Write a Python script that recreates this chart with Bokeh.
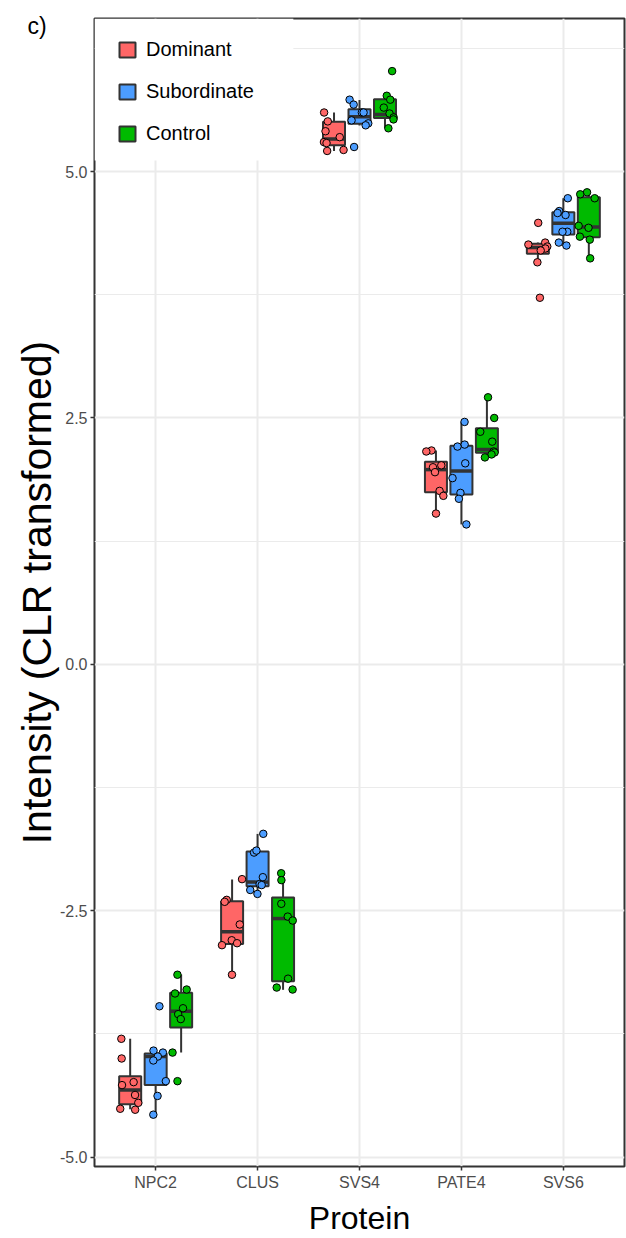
from bokeh.plotting import figure
from bokeh.models import (FactorRange, Range1d, FixedTicker, PrintfTickFormatter,
                          Legend, LegendItem, ColumnDataSource, BoxAnnotation)
from bokeh.transform import dodge, jitter
from bokeh.embed import file_html
from bokeh.resources import INLINE

proteins = ["NPC2", "CLUS", "SVS4", "PATE4", "SVS6"]
groups = ["Dominant", "Subordinate", "Control"]

# Box statistics per protein
dominant_low    = [-4.515, -3.154, 5.210, 1.528, 4.080]
dominant_q1     = [-4.465, -2.838, 5.268, 1.747, 4.167]
dominant_median = [-4.320, -2.715, 5.330, 1.976, 4.230]
dominant_q3     = [-4.180, -2.405, 5.507, 2.056, 4.267]
dominant_high   = [-3.800, -2.184, 5.601, 2.170, 4.280]

subordinate_low    = [-4.567, -2.330, 5.467, 1.420, 4.246]
subordinate_q1     = [-4.270, -2.252, 5.486, 1.724, 4.363]
subordinate_median = [-3.980, -2.210, 5.558, 1.962, 4.476]
subordinate_q3     = [-3.950, -1.900, 5.632, 2.219, 4.587]
subordinate_high   = [-3.918, -1.721, 5.727, 2.457, 4.729]

control_low    = [-3.940, -3.303, 5.439, 2.099, 4.121]
control_q1     = [-3.685, -3.215, 5.543, 2.147, 4.334]
control_median = [-3.520, -2.580, 5.580, 2.180, 4.437]
control_q3     = [-3.333, -2.367, 5.735, 2.397, 4.740]
control_high   = [-3.147, -2.123, 5.771, 2.711, 4.790]

# Individual samples per protein (NPC2, CLUS, SVS4, PATE4, SVS6)
dominant_points = [
    [-3.80, -4.00, -4.24, -4.27, -4.37, -4.45, -4.52, -4.51],
    [-2.18, -2.39, -2.41, -2.64, -2.80, -2.83, -2.85, -3.15],
    [5.60, 5.51, 5.41, 5.30, 5.29, 5.22, 5.21, 5.35],
    [2.17, 2.16, 2.02, 2.00, 1.95, 1.76, 1.71, 1.53],
    [4.48, 4.28, 4.26, 4.24, 4.22, 4.20, 4.08, 3.72],
]
subordinate_points = [
    [-3.47, -3.92, -3.94, -3.98, -4.02, -4.23, -4.38, -4.57],
    [-1.72, -1.91, -1.89, -2.16, -2.23, -2.24, -2.29, -2.33],
    [5.73, 5.68, 5.60, 5.52, 5.49, 5.47, 5.25, 5.60],
    [2.46, 2.23, 2.21, 2.04, 1.89, 1.74, 1.68, 1.42],
    [4.73, 4.60, 4.58, 4.56, 4.39, 4.39, 4.28, 4.25],
]
control_points = [
    [-3.15, -3.30, -3.34, -3.49, -3.55, -3.60, -3.94, -4.23],
    [-2.12, -2.19, -2.43, -2.56, -2.60, -3.19, -3.28, -3.30],
    [6.02, 5.77, 5.73, 5.65, 5.59, 5.55, 5.53, 5.44],
    [2.71, 2.50, 2.36, 2.26, 2.16, 2.15, 2.13, 2.10],
    [4.79, 4.77, 4.73, 4.45, 4.43, 4.34, 4.31, 4.12],
]

y_ticks = [-5.0, -2.5, 0.0, 2.5, 5.0]
y_minor = [-3.75, -1.25, 1.25, 3.75, 6.25]

stats = {
    "Dominant": (dominant_low, dominant_q1, dominant_median, dominant_q3, dominant_high, dominant_points),
    "Subordinate": (subordinate_low, subordinate_q1, subordinate_median, subordinate_q3, subordinate_high, subordinate_points),
    "Control": (control_low, control_q1, control_median, control_q3, control_high, control_points),
}
colors = {"Dominant": "#FF6666", "Subordinate": "#4C9DFF", "Control": "#00BA00"}
offsets = {"Dominant": -0.25, "Subordinate": 0.0, "Control": 0.25}

FONT = "Liberation Sans"
DARK = "#333333"

x_range = FactorRange(factors=proteins, range_padding=0.04, range_padding_units="percent")
p = figure(width=626, height=1238, x_range=x_range, y_range=Range1d(-5.096, 6.554),
           output_backend="svg", toolbar_location=None,
           min_border_left=94, min_border_right=2, min_border_top=18, min_border_bottom=71)

p.background_fill_color = "white"
p.border_fill_color = "white"
p.outline_line_color = DARK
p.outline_line_width = 2

# panel tag as a left-aligned title
p.title.text = "c)"
p.title.align = "left"
p.title.offset = -67
p.title.standoff = -41
p.title.text_font = FONT
p.title.text_font_size = "23px"
p.title.text_font_style = "normal"
p.title.text_color = "black"

# grids
p.xgrid.grid_line_color = "#EBEBEB"
p.xgrid.grid_line_width = 2
p.ygrid.grid_line_color = "#EBEBEB"
p.ygrid.grid_line_width = 2
p.ygrid.minor_grid_line_color = "#EBEBEB"
p.ygrid.minor_grid_line_width = 1

# axes
p.yaxis.ticker = FixedTicker(ticks=y_ticks, minor_ticks=y_minor)
p.yaxis.formatter = PrintfTickFormatter(format="%.1f")
for ax in (p.xaxis[0], p.yaxis[0]):
    ax.axis_line_color = None
    ax.major_tick_line_color = DARK
    ax.major_tick_line_width = 1.5
    ax.major_tick_out = 4
    ax.major_tick_in = 0
    ax.minor_tick_line_color = None
    ax.major_label_text_font = FONT
    ax.major_label_text_font_size = "16px"
    ax.major_label_text_color = "#4D4D4D"
    ax.major_label_standoff = 3
    ax.axis_label_text_font = FONT
    ax.axis_label_text_font_style = "normal"
    ax.axis_label_text_color = "black"
p.xaxis.axis_label = "Protein"
p.xaxis.axis_label_text_font_size = "32px"
p.xaxis.axis_label_standoff = 6
p.yaxis.axis_label = "Intensity (CLR transformed)"
p.yaxis.axis_label_text_font_size = "41px"
p.yaxis.axis_label_standoff = -3

box_w = 0.216
box_renderers = {}
for g in groups:
    lo, q1, med, q3, hi, pts = stats[g]
    off = offsets[g]
    src = ColumnDataSource(dict(protein=proteins, lo=lo, q1=q1, med=med, q3=q3, hi=hi))
    xc = dodge("protein", off, range=p.x_range)
    p.segment(x0=xc, y0="lo", x1=xc, y1="q1", source=src, line_color=DARK, line_width=2)
    p.segment(x0=xc, y0="q3", x1=xc, y1="hi", source=src, line_color=DARK, line_width=2)
    r = p.vbar(x=xc, width=box_w, bottom="q1", top="q3", source=src,
               fill_color=colors[g], line_color=DARK, line_width=2)
    box_renderers[g] = r
    p.segment(x0=dodge("protein", off - box_w / 2, range=p.x_range), y0="med",
              x1=dodge("protein", off + box_w / 2, range=p.x_range), y1="med",
              source=src, line_color=DARK, line_width=3.5)

for g in groups:
    pts = stats[g][5]
    xs, ys = [], []
    for prot, vals in zip(proteins, pts):
        for v in vals:
            xs.append(prot)
            ys.append(v)
    src = ColumnDataSource(dict(protein=xs, y=ys))
    p.scatter(x=jitter("protein", width=0.2, mean=offsets[g], range=p.x_range), y="y",
              source=src, size=7.5, fill_color=colors[g], line_color="black", line_width=1)

# white legend background area (covers grid lines like the ggplot legend box)
p.add_layout(BoxAnnotation(right=1.851, bottom=5.114, fill_color="white", fill_alpha=1.0,
                           line_color=None))

legend = Legend(items=[LegendItem(label=g, renderers=[box_renderers[g]]) for g in groups],
                location=(23, 1021), margin=0, padding=0, spacing=18,
                glyph_width=20, glyph_height=19, label_standoff=9,
                label_width=129, label_height=24,
                label_text_font=FONT, label_text_font_size="20px", label_text_color="black",
                background_fill_color="white", background_fill_alpha=1.0,
                border_line_color=None)
p.add_layout(legend)

open("out.html", "w").write(file_html(p, INLINE))
